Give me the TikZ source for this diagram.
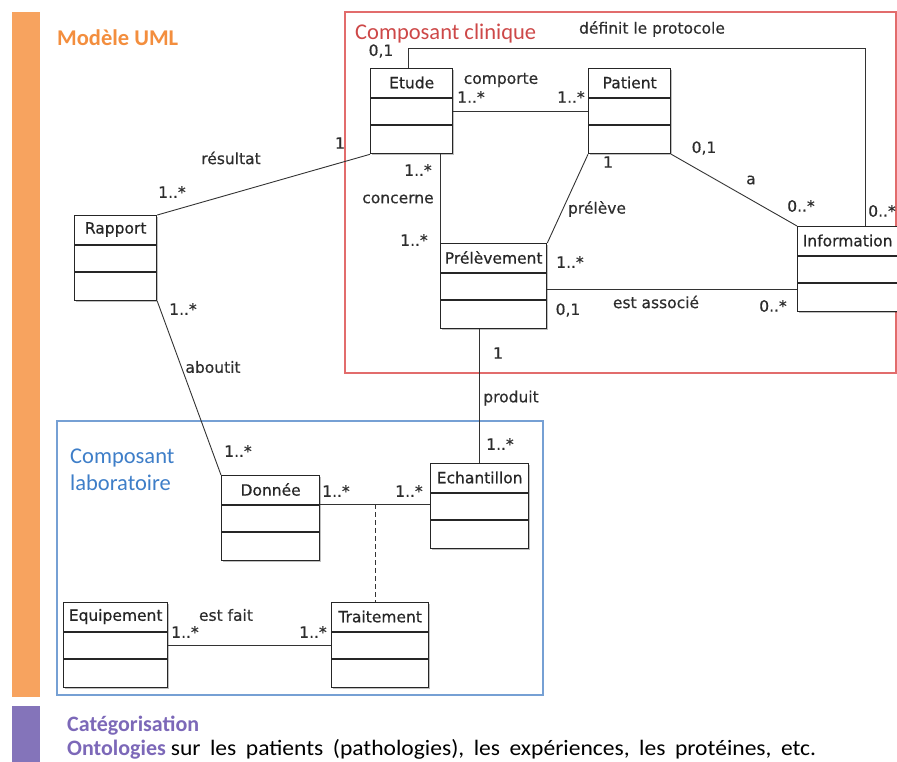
\documentclass[tikz,border=0pt]{standalone}
\usepackage{fontspec}
\setmainfont{Carlito}
\newfontfamily\umlfont[FakeBold=0.5]{DejaVu Sans}
\newfontfamily\widefont[FakeStretch=1.07]{Carlito}
\usetikzlibrary{calc, shadows}
\definecolor{BarOrange}{RGB}{247, 163, 95}
\definecolor{TitleOrange}{RGB}{243, 142, 62}
\definecolor{ClinicRed}{RGB}{226, 108, 108}
\definecolor{ClinicText}{RGB}{205, 72, 72}
\definecolor{LabBlue}{RGB}{118, 160, 212}
\definecolor{LabText}{RGB}{62, 126, 200}
\definecolor{BarPurple}{RGB}{132, 116, 186}
\definecolor{CatPurple}{RGB}{124, 104, 184}
\definecolor{LabelGray}{RGB}{45, 45, 45}

% class box: name, top-left corner, width, title
\newcommand{\umlclass}[4]{%
    \node[classbox, minimum width=#3pt] (#1) at (#2) {};
    \node[classname] (#1-name) at ([yshift=-14.5pt]#1.north) {#4};
    \draw[classline] ([yshift=-30pt]#1.north west) -- ([yshift=-30pt]#1.north east);
    \draw[classline] ([yshift=-57pt]#1.north west) -- ([yshift=-57pt]#1.north east);
}

\begin{document}
\begin{tikzpicture}[
    x=1pt, y=-1pt,
    classbox/.style={
        draw=black!85,
        line width=1.3pt,
        fill=white,
        anchor=north west,
        minimum height=85pt,
        inner sep=0pt,
        drop shadow={shadow xshift=1.6pt, shadow yshift=-1.6pt, opacity=0.25, fill=black}
    },
    classname/.style={font=\umlfont\fontsize{15.5}{17}\selectfont, text=black!85, inner sep=0pt},
    classline/.style={line width=1.1pt, draw=black!85},
    assoc/.style={line width=0.9pt, draw=black!80},
    lbl/.style={font=\umlfont\fontsize{15.5}{17}\selectfont, text=LabelGray, inner sep=0pt},
    heading/.style={font=\fontsize{22.5}{27}\selectfont, inner sep=0pt, anchor=west, align=left}
]
\useasboundingbox (0,0) rectangle (897,762);

% Side bars
\fill[BarOrange] (12,12) rectangle (40,697);
\fill[BarPurple] (12,706) rectangle (40,762);

% Component frames
\draw[ClinicRed, line width=1.1pt] (345,12) rectangle (896,373);
\draw[LabBlue, line width=1.1pt] (57,421) rectangle (543,695);

% Headings
\node[heading, text=TitleOrange, font=\fontsize{22.5}{27}\selectfont\bfseries] (uml) at (57,38) {Modèle UML};
\node[heading, text=ClinicText] (clinique) at (355,34) {Composant clinique};
\node[heading, text=LabText] (labo) at (70,470) {Composant\\laboratoire};

% Classes
\umlclass{etude}{370,68}{82}{Etude}
\umlclass{patient}{588,68}{82}{Patient}
\umlclass{rapport}{74,215}{82}{Rapport}
\umlclass{prelev}{440,243}{106}{Prélèvement}
\umlclass{info}{797,226}{100}{Information}
\umlclass{donnee}{221,475}{98}{Donnée}
\umlclass{echant}{430,463}{98}{Echantillon}
\umlclass{equip}{63,602}{104}{Equipement}
\umlclass{trait}{331,602}{97}{Traitement}

% Associations
\draw[assoc] ([xshift=-3pt]etude.north) -- ++(0,-20) -| ([xshift=68pt]info.north west);
\draw[assoc] ([yshift=-43pt]etude.north east) -- ([yshift=-43pt]patient.north west);
\draw[assoc] (etude.south west) -- (rapport.north east);
\draw[assoc] (prelev.north west |- etude.south) -- (prelev.north west);
\draw[assoc] (patient.south west) -- (prelev.north east);
\draw[assoc] (patient.south east) -- (info.north west);
\draw[assoc] ([yshift=-46pt]prelev.north east) -- ([yshift=-46pt]prelev.north east -| info.west);
\draw[assoc] (echant.north |- prelev.south) -- (echant.north);
\draw[assoc] (rapport.south east) -- (donnee.north west);
\draw[assoc] ([yshift=-29pt]donnee.north east) -- ([yshift=-29pt]donnee.north east -| echant.west)
    coordinate[midway] (dmid);
\draw[assoc, dashed, dash pattern=on 5pt off 3pt] (dmid) -- (dmid |- trait.north);
\draw[assoc] ([yshift=-43pt]equip.north east) -- ([yshift=-43pt]equip.north east -| trait.west);

% Association labels and multiplicities
\node[lbl] (l-proto) at (652,29) {définit le protocole};
\node[lbl] (m-proto1) at (381,51) {0,1};
\node[lbl] (m-proto2) at (882,211) {0..*};
\node[lbl] (l-comporte) at (501,80) {comporte};
\node[lbl] (m-comp1) at (471,97) {1..*};
\node[lbl] (m-comp2) at (571,97) {1..*};
\node[lbl] (l-resultat) at (231,158) {résultat};
\node[lbl] (m-res1) at (340,143) {1};
\node[lbl] (m-res2) at (172,192) {1..*};
\node[lbl] (l-concerne) at (398,199) {concerne};
\node[lbl] (m-conc1) at (418,170) {1..*};
\node[lbl] (m-conc2) at (414,240) {1..*};
\node[lbl] (l-preleve) at (597,209) {prélève};
\node[lbl] (m-prel1) at (608,162) {1};
\node[lbl] (m-prel2) at (570,262) {1..*};
\node[lbl] (l-a) at (751,180) {a};
\node[lbl] (m-a1) at (704,148) {0,1};
\node[lbl] (m-a2) at (801,206) {0..*};
\node[lbl] (l-associe) at (656,302) {est associé};
\node[lbl] (m-ass1) at (568,310) {0,1};
\node[lbl] (m-ass2) at (773,306) {0..*};
\node[lbl] (l-produit) at (511,398) {produit};
\node[lbl] (m-prod1) at (498,353) {1};
\node[lbl] (m-prod2) at (500,444) {1..*};
\node[lbl] (l-aboutit) at (213,367) {aboutit};
\node[lbl] (m-abo1) at (183,309) {1..*};
\node[lbl] (m-abo2) at (238,451) {1..*};
\node[lbl] (m-don1) at (336,491) {1..*};
\node[lbl] (m-don2) at (409,491) {1..*};
\node[lbl] (l-fait) at (226,615) {est fait};
\node[lbl] (m-fait1) at (185,632) {1..*};
\node[lbl] (m-fait2) at (313,632) {1..*};

% Categorisation
\node[heading, text=CatPurple, font=\fontsize{22}{26}\selectfont\bfseries] (cat) at (67,726) {Catégorisation};
\node[heading, font=\fontsize{22}{26}\selectfont] (onto) at (67,749)
    {\textcolor{CatPurple}{\bfseries Ontologies} {\widefont\spaceskip=9.5pt plus 1pt sur les patients (pathologies), les expériences, les protéines, etc.}};

\end{tikzpicture}
\end{document}
